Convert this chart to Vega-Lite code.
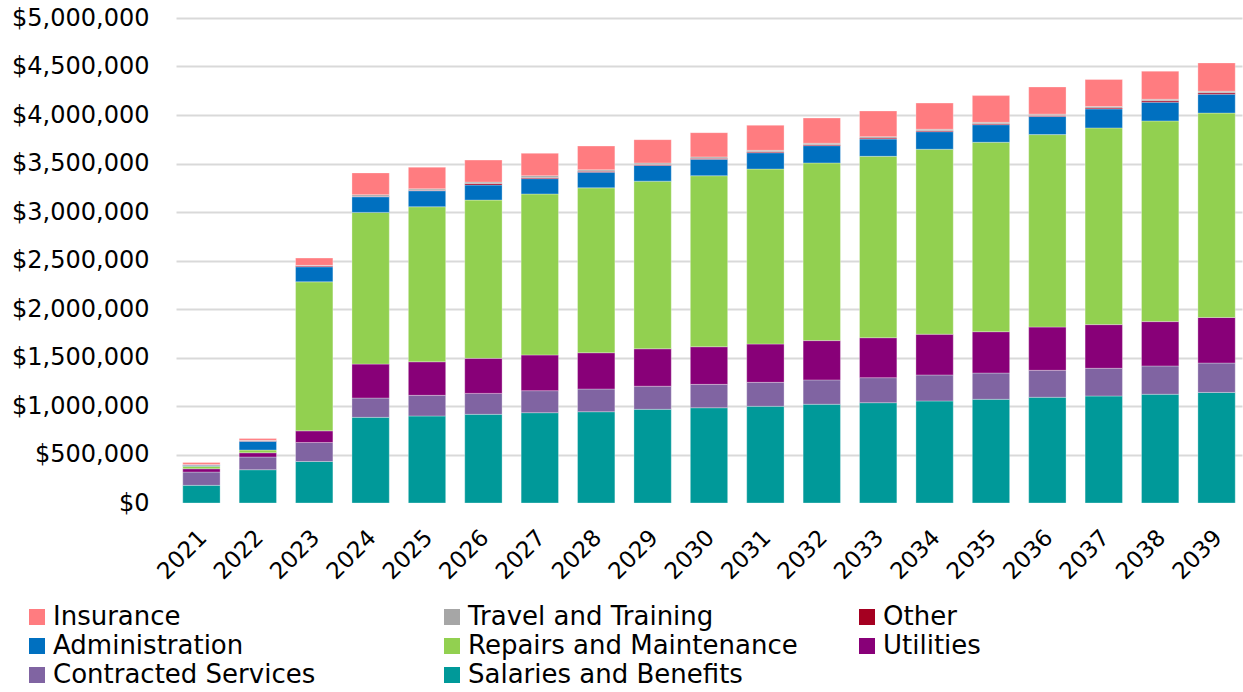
{
  "$schema": "https://vega.github.io/schema/vega-lite/v6.json",
  "width": 1066,
  "height": 485,
  "autosize": {"type": "none"},
  "padding": {"left": 176, "top": 18, "right": 1, "bottom": 189},
  "background": "white",
  "config": {"view": {"stroke": null}, "font": "DejaVu Sans"},
  "datasets": {
    "costs": [
      {"year": "2021", "Salaries and Benefits": 182000, "Contracted Services": 137000, "Utilities": 34000, "Repairs and Maintenance": 25000, "Administration": 10000, "Other": 5000, "Travel and Training": 5000, "Insurance": 20000},
      {"year": "2022", "Salaries and Benefits": 343000, "Contracted Services": 131000, "Utilities": 44000, "Repairs and Maintenance": 28000, "Administration": 90000, "Other": 5000, "Travel and Training": 5000, "Insurance": 20000},
      {"year": "2023", "Salaries and Benefits": 428000, "Contracted Services": 196000, "Utilities": 120000, "Repairs and Maintenance": 1536000, "Administration": 155000, "Other": 10000, "Travel and Training": 5000, "Insurance": 75000},
      {"year": "2024", "Salaries and Benefits": 883000, "Contracted Services": 199000, "Utilities": 350000, "Repairs and Maintenance": 1564000, "Administration": 161000, "Other": 5000, "Travel and Training": 17000, "Insurance": 224000},
      {"year": "2025", "Salaries and Benefits": 897000, "Contracted Services": 213000, "Utilities": 346000, "Repairs and Maintenance": 1598000, "Administration": 165000, "Other": 5000, "Travel and Training": 15000, "Insurance": 223000},
      {"year": "2026", "Salaries and Benefits": 914000, "Contracted Services": 216000, "Utilities": 361000, "Repairs and Maintenance": 1632000, "Administration": 155000, "Other": 15000, "Travel and Training": 15000, "Insurance": 227000},
      {"year": "2027", "Salaries and Benefits": 931000, "Contracted Services": 227000, "Utilities": 368000, "Repairs and Maintenance": 1660000, "Administration": 158000, "Other": 10000, "Travel and Training": 20000, "Insurance": 231000},
      {"year": "2028", "Salaries and Benefits": 941000, "Contracted Services": 234000, "Utilities": 374000, "Repairs and Maintenance": 1700000, "Administration": 161000, "Other": 10000, "Travel and Training": 15000, "Insurance": 245000},
      {"year": "2029", "Salaries and Benefits": 966000, "Contracted Services": 238000, "Utilities": 386000, "Repairs and Maintenance": 1728000, "Administration": 162000, "Other": 10000, "Travel and Training": 15000, "Insurance": 241000},
      {"year": "2030", "Salaries and Benefits": 982000, "Contracted Services": 241000, "Utilities": 388000, "Repairs and Maintenance": 1763000, "Administration": 169000, "Other": 10000, "Travel and Training": 15000, "Insurance": 250000},
      {"year": "2031", "Salaries and Benefits": 997000, "Contracted Services": 247000, "Utilities": 395000, "Repairs and Maintenance": 1804000, "Administration": 168000, "Other": 10000, "Travel and Training": 15000, "Insurance": 258000},
      {"year": "2032", "Salaries and Benefits": 1018000, "Contracted Services": 251000, "Utilities": 405000, "Repairs and Maintenance": 1832000, "Administration": 178000, "Other": 10000, "Travel and Training": 15000, "Insurance": 260000},
      {"year": "2033", "Salaries and Benefits": 1034000, "Contracted Services": 258000, "Utilities": 412000, "Repairs and Maintenance": 1870000, "Administration": 178000, "Other": 10000, "Travel and Training": 15000, "Insurance": 265000},
      {"year": "2034", "Salaries and Benefits": 1052000, "Contracted Services": 268000, "Utilities": 420000, "Repairs and Maintenance": 1907000, "Administration": 181000, "Other": 10000, "Travel and Training": 15000, "Insurance": 270000},
      {"year": "2035", "Salaries and Benefits": 1069000, "Contracted Services": 271000, "Utilities": 426000, "Repairs and Maintenance": 1953000, "Administration": 181000, "Other": 10000, "Travel and Training": 15000, "Insurance": 275000},
      {"year": "2036", "Salaries and Benefits": 1090000, "Contracted Services": 278000, "Utilities": 446000, "Repairs and Maintenance": 1984000, "Administration": 186000, "Other": 10000, "Travel and Training": 15000, "Insurance": 280000},
      {"year": "2037", "Salaries and Benefits": 1103000, "Contracted Services": 286000, "Utilities": 450000, "Repairs and Maintenance": 2028000, "Administration": 196000, "Other": 10000, "Travel and Training": 15000, "Insurance": 278000},
      {"year": "2038", "Salaries and Benefits": 1121000, "Contracted Services": 292000, "Utilities": 457000, "Repairs and Maintenance": 2069000, "Administration": 193000, "Other": 15000, "Travel and Training": 15000, "Insurance": 290000},
      {"year": "2039", "Salaries and Benefits": 1140000, "Contracted Services": 303000, "Utilities": 470000, "Repairs and Maintenance": 2107000, "Administration": 195000, "Other": 15000, "Travel and Training": 15000, "Insurance": 292000}
    ],
    "cats": [
      {"category": "Salaries and Benefits", "rank": 1},
      {"category": "Contracted Services", "rank": 2},
      {"category": "Utilities", "rank": 3},
      {"category": "Repairs and Maintenance", "rank": 4},
      {"category": "Administration", "rank": 5},
      {"category": "Other", "rank": 6},
      {"category": "Travel and Training", "rank": 7},
      {"category": "Insurance", "rank": 8}
    ]
  },
  "data": {"name": "costs"},
  "transform": [
    {"fold": ["Salaries and Benefits", "Contracted Services", "Utilities", "Repairs and Maintenance", "Administration", "Other", "Travel and Training", "Insurance"], "as": ["category", "amount"]},
    {"lookup": "category", "from": {"data": {"name": "cats"}, "key": "category", "fields": ["rank"]}}
  ],
  "mark": {"type": "bar", "stroke": "white", "strokeWidth": 0.5, "strokeOpacity": 0.6},
  "encoding": {
    "x": {
      "field": "year",
      "type": "ordinal",
      "scale": {"paddingInner": 0.338, "paddingOuter": 0.12},
      "axis": {"title": null, "labelAngle": -45, "labelFontSize": 23, "labelColor": "#000000", "ticks": false, "domain": false, "labelPadding": 23, "labelOffset": -6}
    },
    "y": {
      "field": "amount",
      "type": "quantitative",
      "stack": "zero",
      "scale": {"domain": [0, 5000000], "nice": false},
      "axis": {
        "title": null,
        "values": [0, 500000, 1000000, 1500000, 2000000, 2500000, 3000000, 3500000, 4000000, 4500000, 5000000],
        "format": "$,.0f",
        "labelFontSize": 24,
        "labelColor": "#000000",
        "ticks": false,
        "domain": false,
        "labelPadding": 27,
        "gridColor": {"condition": {"test": "datum.value === 0", "value": "transparent"}, "value": "#d9d9d9"},
        "gridWidth": 2
      }
    },
    "color": {
      "field": "category",
      "type": "nominal",
      "scale": {
        "domain": ["Insurance", "Travel and Training", "Other", "Administration", "Repairs and Maintenance", "Utilities", "Contracted Services", "Salaries and Benefits"],
        "range": ["#FF7C80", "#A6A6A6", "#A50021", "#0070C0", "#92D050", "#880078", "#8064A2", "#009999"]
      },
      "legend": {
        "title": null,
        "orient": "none",
        "direction": "horizontal",
        "legendX": -152,
        "legendY": 586,
        "columns": 3,
        "symbolType": "square",
        "symbolSize": 256,
        "symbolStrokeWidth": 0,
        "labelFontSize": 26,
        "labelLimit": 500,
        "labelOffset": 3,
        "columnPadding": 56,
        "rowPadding": 3,
        "gridAlign": "all",
        "labelColor": "#000000",
        "padding": 0
      }
    },
    "order": {"field": "rank", "type": "quantitative"}
  }
}
